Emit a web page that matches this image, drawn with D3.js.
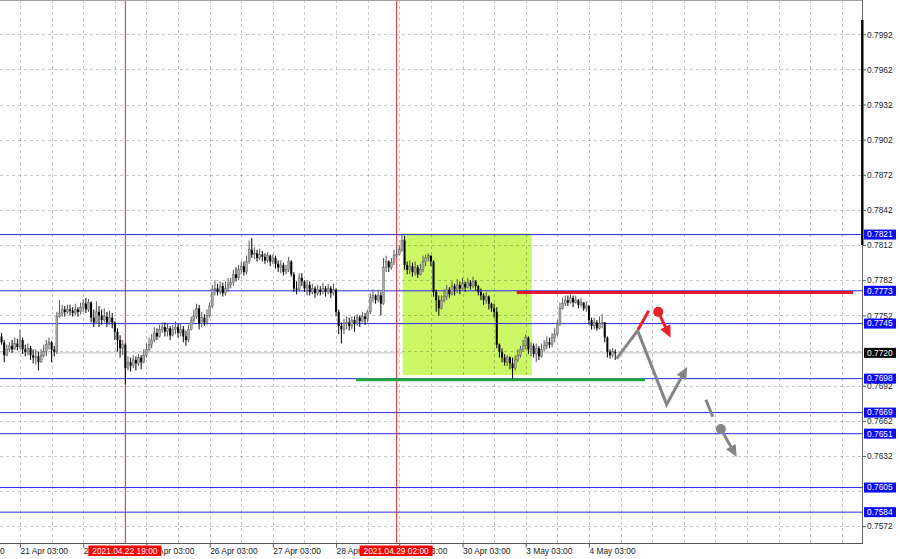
<!DOCTYPE html>
<html><head><meta charset="utf-8">
<script src="https://cdn.jsdelivr.net/npm/d3@7"></script>
<style>body{margin:0;background:#fff}svg{display:block}text{font-family:"Liberation Sans",Arial,sans-serif}</style>
</head><body><svg id="c" width="900" height="559"></svg>
<script>
// ---- data (H1 candles, bar index 0 = 20 Apr 20:00) ----
const closes = [.7729,.7718,.7723,.7726,.7723,.7728,.7725,.7731,.7723,.7721,
.7724,.7718,.7716,.7717,.7712,.7718,.7721,.7727,.7729,.7723,
.7721,.7751,.7754,.7757,.7755,.7757,.7756,.7754,.7757,.7755,
.7759,.7762,.7757,.7763,.7750,.7746,.7755,.7752,.7748,.7751,
.7746,.7750,.7746,.7738,.7731,.7724,.7727,.7707,.7712,.7709,
.7714,.7711,.7716,.7712,.7718,.7723,.7727,.7731,.7737,.7734,
.7740,.7742,.7738,.7741,.7735,.7740,.7742,.7737,.7740,.7734,
.7731,.7740,.7748,.7751,.7758,.7745,.7750,.7746,.7752,.7760,
.7774,.7775,.7772,.7777,.7771,.7775,.7778,.7780,.7787,.7784,
.7791,.7794,.7789,.7798,.7808,.7804,.7805,.7801,.7804,.7802,
.7799,.7803,.7798,.7801,.7796,.7793,.7795,.7789,.7791,.7798,
.7787,.7775,.7774,.7784,.7781,.7775,.7778,.7772,.7775,.7771,
.7774,.7772,.7775,.7772,.7775,.7771,.7774,.7755,.7743,.7740,
.7745,.7746,.7743,.7748,.7745,.7750,.7747,.7751,.7749,.7755,
.7767,.7769,.7765,.7769,.7762,.7793,.7798,.7793,.7797,.7803,
.7804,.7808,.7816,.7795,.7791,.7794,.7789,.7793,.7787,.7791,
.7798,.7801,.7803,.7798,.7772,.7765,.7758,.7765,.7768,.7774,
.7770,.7777,.7774,.7778,.7775,.7779,.7776,.7780,.7777,.7781,
.7777,.7772,.7769,.7765,.7768,.7762,.7758,.7755,.7727,.7721,
.7716,.7712,.7716,.7711,.7707,.7714,.7718,.7723,.7726,.7733,
.7723,.7726,.7719,.7724,.7717,.7723,.7726,.7729,.7727,.7733,
.7736,.7745,.7758,.7762,.7765,.7763,.7767,.7763,.7765,.7761,
.7763,.7758,.7760,.7748,.7743,.7746,.7741,.7745,.7746,.7733,
.7721,.7718,.7721,.7720];
const opens = [.7734,.7729,.7718,.7723,.7726,.7723,.7728,.7725,.7731,.7723,
.7721,.7724,.7718,.7716,.7717,.7712,.7718,.7721,.7727,.7729,
.7723,.7721,.7751,.7754,.7757,.7755,.7757,.7756,.7754,.7757,
.7755,.7759,.7762,.7757,.7763,.7750,.7746,.7755,.7752,.7748,
.7751,.7746,.7750,.7746,.7738,.7731,.7724,.7727,.7707,.7712,
.7709,.7714,.7711,.7716,.7712,.7718,.7723,.7727,.7731,.7737,
.7734,.7740,.7742,.7738,.7741,.7735,.7740,.7742,.7737,.7740,
.7734,.7731,.7740,.7748,.7751,.7758,.7745,.7750,.7746,.7752,
.7760,.7774,.7775,.7772,.7777,.7771,.7775,.7778,.7780,.7787,
.7784,.7791,.7794,.7789,.7798,.7808,.7804,.7805,.7801,.7804,
.7802,.7799,.7803,.7798,.7801,.7796,.7793,.7795,.7789,.7791,
.7798,.7787,.7775,.7774,.7784,.7781,.7775,.7778,.7772,.7775,
.7771,.7774,.7772,.7775,.7772,.7775,.7771,.7774,.7755,.7743,
.7740,.7745,.7746,.7743,.7748,.7745,.7750,.7747,.7751,.7749,
.7755,.7767,.7769,.7765,.7769,.7762,.7793,.7798,.7793,.7797,
.7803,.7804,.7808,.7816,.7795,.7791,.7794,.7789,.7793,.7787,
.7791,.7798,.7801,.7803,.7798,.7772,.7765,.7758,.7765,.7768,
.7774,.7770,.7777,.7774,.7778,.7775,.7779,.7776,.7780,.7777,
.7781,.7777,.7772,.7769,.7765,.7768,.7762,.7758,.7755,.7727,
.7721,.7716,.7712,.7716,.7711,.7707,.7714,.7718,.7723,.7726,
.7733,.7723,.7726,.7719,.7724,.7717,.7723,.7726,.7729,.7727,
.7733,.7736,.7745,.7758,.7762,.7765,.7763,.7767,.7763,.7765,
.7761,.7763,.7758,.7760,.7748,.7743,.7746,.7741,.7745,.7746,
.7733,.7721,.7718,.7721];
const highs = [.7737,.7731,.7727,.7729,.7731,.7733,.7732,.7740,.7733,.7727,
.7728,.7726,.7723,.7723,.7721,.7723,.7727,.7731,.7733,.7730,
.7726,.7755,.7765,.7761,.7760,.7761,.7761,.7759,.7762,.7759,
.7763,.7766,.7767,.7766,.7764,.7757,.7764,.7760,.7757,.7758,
.7755,.7756,.7754,.7747,.7741,.7735,.7731,.7728,.7717,.7716,
.7718,.7717,.7719,.7718,.7723,.7728,.7733,.7736,.7742,.7741,
.7744,.7746,.7746,.7745,.7743,.7744,.7747,.7745,.7745,.7743,
.7739,.7744,.7751,.7757,.7762,.7761,.7755,.7753,.7757,.7763,
.7778,.7782,.7779,.7781,.7780,.7781,.7784,.7784,.7791,.7793,
.7795,.7798,.7798,.7803,.7816,.7818,.7810,.7808,.7809,.7807,
.7805,.7806,.7804,.7804,.7803,.7799,.7799,.7797,.7795,.7802,
.7799,.7789,.7781,.7788,.7788,.7782,.7782,.7781,.7779,.7777,
.7778,.7777,.7780,.7777,.7779,.7777,.7779,.7775,.7757,.7746,
.7749,.7751,.7750,.7751,.7751,.7753,.7752,.7755,.7754,.7757,
.7771,.7774,.7770,.7774,.7772,.7801,.7803,.7799,.7801,.7808,
.7810,.7812,.7821,.7820,.7798,.7799,.7797,.7798,.7795,.7796,
.7803,.7804,.7805,.7803,.7799,.7774,.7769,.7769,.7774,.7778,
.7776,.7781,.7779,.7783,.7781,.7784,.7781,.7784,.7782,.7785,
.7782,.7778,.7775,.7771,.7772,.7769,.7763,.7762,.7759,.7728,
.7724,.7719,.7718,.7717,.7716,.7718,.7723,.7726,.7731,.7736,
.7734,.7729,.7728,.7728,.7726,.7728,.7731,.7734,.7733,.7737,
.7741,.7748,.7763,.7767,.7769,.7769,.7770,.7769,.7769,.7766,
.7767,.7763,.7764,.7761,.7750,.7750,.7748,.7751,.7753,.7746,
.7734,.7723,.7724,.7723];
const lows = [.7727,.7712,.7717,.7721,.7720,.7723,.7722,.7723,.7719,.7717,
.7718,.7714,.7711,.7710,.7705,.7712,.7716,.7717,.7723,.7712,
.7717,.7719,.7750,.7751,.7751,.7753,.7752,.7751,.7752,.7751,
.7753,.7755,.7754,.7755,.7746,.7742,.7745,.7742,.7744,.7746,
.7742,.7744,.7741,.7731,.7721,.7716,.7718,.7693,.7705,.7704,
.7707,.7705,.7709,.7706,.7711,.7716,.7721,.7724,.7729,.7731,
.7733,.7737,.7734,.7734,.7731,.7734,.7736,.7733,.7734,.7729,
.7726,.7729,.7739,.7746,.7749,.7740,.7742,.7743,.7744,.7750,
.7758,.7769,.7769,.7770,.7768,.7769,.7772,.7775,.7777,.7781,
.7782,.7787,.7786,.7787,.7796,.7801,.7800,.7798,.7799,.7798,
.7796,.7797,.7794,.7796,.7792,.7789,.7788,.7786,.7787,.7789,
.7785,.7772,.7770,.7772,.7777,.7772,.7769,.7769,.7770,.7767,
.7769,.7769,.7770,.7768,.7770,.7767,.7769,.7751,.7736,.7728,
.7736,.7740,.7739,.7740,.7738,.7743,.7742,.7746,.7744,.7746,
.7753,.7763,.7762,.7763,.7752,.7761,.7789,.7789,.7791,.7795,
.7801,.7803,.7806,.7791,.7787,.7787,.7785,.7786,.7784,.7786,
.7789,.7794,.7798,.7794,.7768,.7755,.7752,.7757,.7763,.7765,
.7767,.7769,.7769,.7771,.7770,.7774,.7772,.7775,.7774,.7775,
.7773,.7769,.7765,.7761,.7762,.7757,.7755,.7750,.7724,.7716,
.7712,.7709,.7709,.7706,.7698,.7705,.7712,.7716,.7721,.7723,
.7719,.7717,.7716,.7712,.7714,.7716,.7721,.7723,.7724,.7725,
.7729,.7734,.7743,.7757,.7760,.7760,.7762,.7759,.7762,.7758,
.7759,.7756,.7755,.7744,.7740,.7740,.7739,.7740,.7741,.7729,
.7716,.7715,.7716,.7714];

const timeTicks  = [-17, 7, 31, 55, 79, 103, 127, 151, 175, 199, 223];
const timeLabels = ["20 Apr 03:00","21 Apr 03:00","22 Apr 03:00","23 Apr 03:00","26 Apr 03:00",
  "27 Apr 03:00","28 Apr 03:00","29 Apr 03:00","30 Apr 03:00","3 May 03:00","4 May 03:00"];
const priceTicks = [0.7992,0.7962,0.7932,0.7902,0.7872,0.7842,0.7812,0.7782,0.7752,0.7722,0.7692,0.7662,0.7632,0.7602,0.7572];
const levels = [0.7821,0.7773,0.7745,0.7698,0.7669,0.7651,0.7605,0.7584];
const currentPrice = 0.7720;
const markerBars = [47, 150];
const markerLabels = ["2021.04.22 19:00","2021.04.29 02:00"];
const zone = {x0:152.3, x1:201.3, p0:0.7822, p1:0.7701};
const resistance = {x0:195.6, x1:323.3, p:0.77715};
const support = {x0:134.6, x1:244.3, p:0.7697};
const grayPath = [[233.5,0.7715],[241.5,0.7739],[252.5,0.7676],[260.3,0.7708]];
const redDash = [[241.7,0.7740],[245.7,0.7756]];
const redDot = [249.3,0.7755];
const redArrow = [[249.3,0.7755],[254,0.7733]];
const grayDash = [[267.4,0.7680],[270,0.76655]];
const grayDot = [273.1,0.7655];
const grayArrow = [[273.1,0.7655],[279.1,0.7631]];

// ---- drawing ----
const W=900,H=559, plotR=863, plotB=543;
const svg=d3.select("#c");
svg.append("rect").attr("width",W).attr("height",H).attr("fill","#fff");
const x=d3.scaleLinear().domain([0,326]).range([1.56,1.56+326*2.634]);
const y=d3.scaleLinear().domain([0.7992,0.7572]).range([34.3,526.2]);
const plot=svg.append("g");
svg.append("defs").append("clipPath").attr("id","cp").append("rect").attr("x",0).attr("y",0).attr("width",plotR).attr("height",plotB);
plot.attr("clip-path","url(#cp)");

// current price line
plot.append("line").attr("x1",0).attr("x2",plotR).attr("y1",y(currentPrice)).attr("y2",y(currentPrice)).attr("stroke","#c0c0c0").attr("stroke-width",1);
// zone
plot.append("rect").attr("x",x(zone.x0)).attr("y",y(zone.p0)).attr("width",x(zone.x1)-x(zone.x0)).attr("height",y(zone.p1)-y(zone.p0)).attr("fill","#ccf766");
// grid
const vg=d3.range(7,326,12);
plot.selectAll(".vg").data(vg).enter().append("line").attr("x1",d=>Math.round(x(d))+0.5).attr("x2",d=>Math.round(x(d))+0.5)
  .attr("y1",0).attr("y2",plotB).attr("stroke","rgba(0,0,0,0.22)").attr("stroke-dasharray","3,3");
plot.selectAll(".hg").data(priceTicks).enter().append("line").attr("y1",d=>Math.round(y(d))+0.5).attr("y2",d=>Math.round(y(d))+0.5)
  .attr("x1",0).attr("x2",plotR).attr("stroke","rgba(0,0,0,0.22)").attr("stroke-dasharray","3,3");
// levels
plot.selectAll(".lv").data(levels).enter().append("line").attr("x1",0).attr("x2",plotR)
  .attr("y1",d=>y(d)).attr("y2",d=>y(d)).attr("stroke","#2a2af0").attr("stroke-width",1);
// marker verticals
plot.selectAll(".mk").data(markerBars).enter().append("line").attr("x1",d=>x(d)).attr("x2",d=>x(d))
  .attr("y1",0).attr("y2",plotB).attr("stroke","#ee2020").attr("stroke-width",1);
// support / resistance
plot.append("line").attr("x1",x(resistance.x0)).attr("x2",x(resistance.x1)).attr("y1",y(resistance.p)).attr("y2",y(resistance.p)).attr("stroke","#e5182a").attr("stroke-width",3);
plot.append("line").attr("x1",x(support.x0)).attr("x2",x(support.x1)).attr("y1",y(support.p)).attr("y2",y(support.p)).attr("stroke","#22a843").attr("stroke-width",3);

// candles
const bars=d3.range(closes.length).map(i=>({i,o:opens[i],h:highs[i],l:lows[i],c:closes[i]}));
const cg=plot.append("g");
bars.forEach(b=>{
  const up=b.c>=b.o, cx=x(b.i);
  const top=y(Math.max(b.o,b.c)), bot=y(Math.min(b.o,b.c));
  cg.append("line").attr("x1",cx).attr("x2",cx).attr("y1",Math.min(y(b.h),top)).attr("y2",Math.max(y(b.l),bot))
    .attr("stroke",up?"#555":"#000").attr("stroke-width",1);
  cg.append("rect").attr("x",cx-1).attr("width",2).attr("y",top).attr("height",Math.max(1,bot-top))
    .attr("fill",up?"#a8a8a8":"#000").attr("stroke",up?"#555":"none").attr("stroke-width",0.4);
});

// annotations
function arrowHead(g,p1,p2,col){
  const x1=x(p1[0]),y1=y(p1[1]),x2=x(p2[0]),y2=y(p2[1]);
  const a=Math.atan2(y2-y1,x2-x1), L=12, w=5.5;
  const bx=x2-L*Math.cos(a), by=y2-L*Math.sin(a);
  g.append("polygon").attr("points",[[x2,y2],[bx+w*Math.sin(a),by-w*Math.cos(a)],[bx-w*Math.sin(a),by+w*Math.cos(a)]].map(p=>p.join(",")).join(" ")).attr("fill",col);
  return [bx+2*Math.cos(a),by+2*Math.sin(a)];
}
const ag=plot.append("g");
function poly(pts,col,w){
  const last=pts[pts.length-1], prev=pts[pts.length-2];
  const end=arrowHead(ag,prev,last,col);
  const pp=pts.slice(0,-1).map(p=>[x(p[0]),y(p[1])]).concat([end]);
  ag.append("path").attr("d",d3.line()(pp)).attr("fill","none").attr("stroke",col).attr("stroke-width",w).attr("stroke-linejoin","miter");
}
const gcol="#858585", rcol="#e8202a";
poly(grayPath,gcol,3);
ag.append("path").attr("d",d3.line()(redDash.map(p=>[x(p[0]),y(p[1])]))).attr("stroke",rcol).attr("stroke-width",3);
ag.append("circle").attr("cx",x(redDot[0])).attr("cy",y(redDot[1])).attr("r",5).attr("fill",rcol);
poly(redArrow,rcol,3);
ag.append("path").attr("d",d3.line()(grayDash.map(p=>[x(p[0]),y(p[1])]))).attr("stroke",gcol).attr("stroke-width",3);
ag.append("circle").attr("cx",x(grayDot[0])).attr("cy",y(grayDot[1])).attr("r",5).attr("fill",gcol);
poly(grayArrow,gcol,3);

// frame
svg.append("line").attr("x1",0).attr("x2",plotR).attr("y1",0.5).attr("y2",0.5).attr("stroke","#a0a0a0");
svg.append("line").attr("x1",0).attr("x2",plotR).attr("y1",plotB+0.5).attr("y2",plotB+0.5).attr("stroke","#555");
svg.append("line").attr("x1",plotR-0.5).attr("x2",plotR-0.5).attr("y1",0).attr("y2",plotB+1).attr("stroke","#666");
svg.append("line").attr("x1",plotR-0.7).attr("x2",plotR-0.7).attr("y1",20).attr("y2",245).attr("stroke","#000").attr("stroke-width",2.4);

// bottom axis
const xa=svg.append("g").attr("transform",`translate(0,${plotB+0.5})`)
  .call(d3.axisBottom(x).tickValues(timeTicks).tickFormat((d,i)=>timeLabels[i]).tickSize(4).tickSizeOuter(0));
xa.select(".domain").remove();
xa.selectAll("line").attr("stroke","#555");
xa.selectAll("text").attr("text-anchor","start").attr("x",0).attr("y",10.5).attr("dy",null)
  .attr("fill","#222").style("font-size","8.4px").style("font-family","'Liberation Sans',Arial,sans-serif");

// right axis
const boxVals=levels.concat([currentPrice]);
const shown=priceTicks.filter(p=>!boxVals.some(b=>Math.abs(b-p)<0.00031));
const ya=svg.append("g").attr("transform",`translate(${plotR},0)`)
  .call(d3.axisRight(y).tickValues(shown).tickFormat(d3.format(".4f")).tickSize(3).tickSizeOuter(0));
ya.select(".domain").remove();
ya.selectAll("line").attr("stroke","#555");
ya.selectAll("text").attr("x",4).attr("fill","#222").style("font-size","8.4px").style("font-family","'Liberation Sans',Arial,sans-serif");

// level boxes
const bg=svg.append("g");
boxVals.forEach(v=>{
  const yy=y(v), cur=v===currentPrice;
  bg.append("rect").attr("x",plotR+1).attr("y",yy-5).attr("width",32).attr("height",10).attr("fill",cur?"#000":"#0a0af5");
  bg.append("text").attr("x",plotR+4).attr("y",yy).attr("dy","0.34em").attr("fill","#fff").style("font-size","8.4px").text(d3.format(".4f")(v));
});

// marker labels
markerBars.forEach((m,i)=>{
  const cx=x(m);
  bg.append("rect").attr("x",cx-37).attr("y",545.5).attr("width",73).attr("height",10.5).attr("fill","#f00");
  bg.append("text").attr("x",cx-0.5).attr("y",554).attr("text-anchor","middle").attr("fill","#fff").style("font-size","8.4px").text(markerLabels[i]);
});
</script></body></html>
